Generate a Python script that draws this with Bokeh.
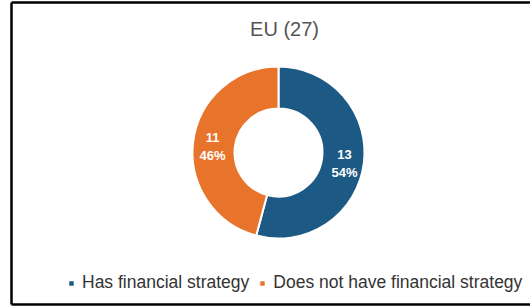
import numpy as np
from bokeh.plotting import figure
from bokeh.models import Range1d, Legend, LegendItem, ColumnDataSource
from bokeh.core.properties import value
from bokeh.embed import file_html
from bokeh.resources import INLINE

# ---- data ----
title_text = "EU (27)"
categories = ["Has financial strategy", "Does not have financial strategy"]
counts = [13, 11]
colors = ["#1c5a85", "#e8742c"]

# ---- layout (figure pixel space: x from left, y from bottom) ----
W, H = 530, 306
cx, cy = 278, 154
r_in, r_out = 44, 86
font = "Liberation Sans"

p = figure(width=W, height=H, x_range=Range1d(0, W), y_range=Range1d(0, H),
           output_backend="svg", toolbar_location=None, min_border=0)
p.axis.visible = False
p.grid.visible = False
p.outline_line_color = None
p.background_fill_color = "white"
p.border_fill_color = "white"

total = sum(counts)
frac = np.array(counts, dtype=float) / total
ends = np.cumsum(frac)
starts = ends - frac
start_angle = np.pi / 2 - 2 * np.pi * starts
end_angle = np.pi / 2 - 2 * np.pi * ends
mid = (start_angle + end_angle) / 2
r_lab = 66.5

src = ColumnDataSource(dict(
    cat=categories, count=counts, color=colors,
    start=start_angle, end=end_angle,
    lx=cx + r_lab * np.cos(mid), ly=cy - 2.5 + r_lab * np.sin(mid),
    lab=[f"{c}\n{round(f * 100)}%" for c, f in zip(counts, frac)],
    x=[cx] * len(counts), y=[cy] * len(counts),
))

# frame border (left, top, bottom edges of the original panel)
p.segment(x0=[11, 11, 11], y0=[304, 2, 2], x1=[W, W, 11], y1=[304, 2, 304],
          line_color="black", line_width=2.5)

wedges = p.annular_wedge(x="x", y="y", inner_radius=r_in, outer_radius=r_out,
                         start_angle="start", end_angle="end", direction="clock",
                         fill_color="color", line_color="white", line_width=2, source=src)

p.text(x="lx", y="ly", text="lab", source=src, text_align="center", text_baseline="middle",
       text_color="white", text_font=value(font), text_font_style="bold",
       text_font_size="13px", text_line_height=1.2)

p.text(x=[284], y=[278], text=[title_text], text_align="center", text_baseline="middle",
       text_color="#555555", text_font=value(font), text_font_size="20px")

legend = Legend(
    items=[LegendItem(label=c, renderers=[wedges], index=i) for i, c in enumerate(categories)],
    orientation="horizontal", location=(67, 13),
    glyph_width=8, glyph_height=8, label_height=17,
    label_text_font_size="17.5px", label_text_font=font, label_text_color="#333333",
    spacing=9, label_standoff=7, padding=0, margin=0,
    border_line_color=None, background_fill_alpha=0,
)
p.add_layout(legend)

open("out.html", "w").write(file_html(p, INLINE))
